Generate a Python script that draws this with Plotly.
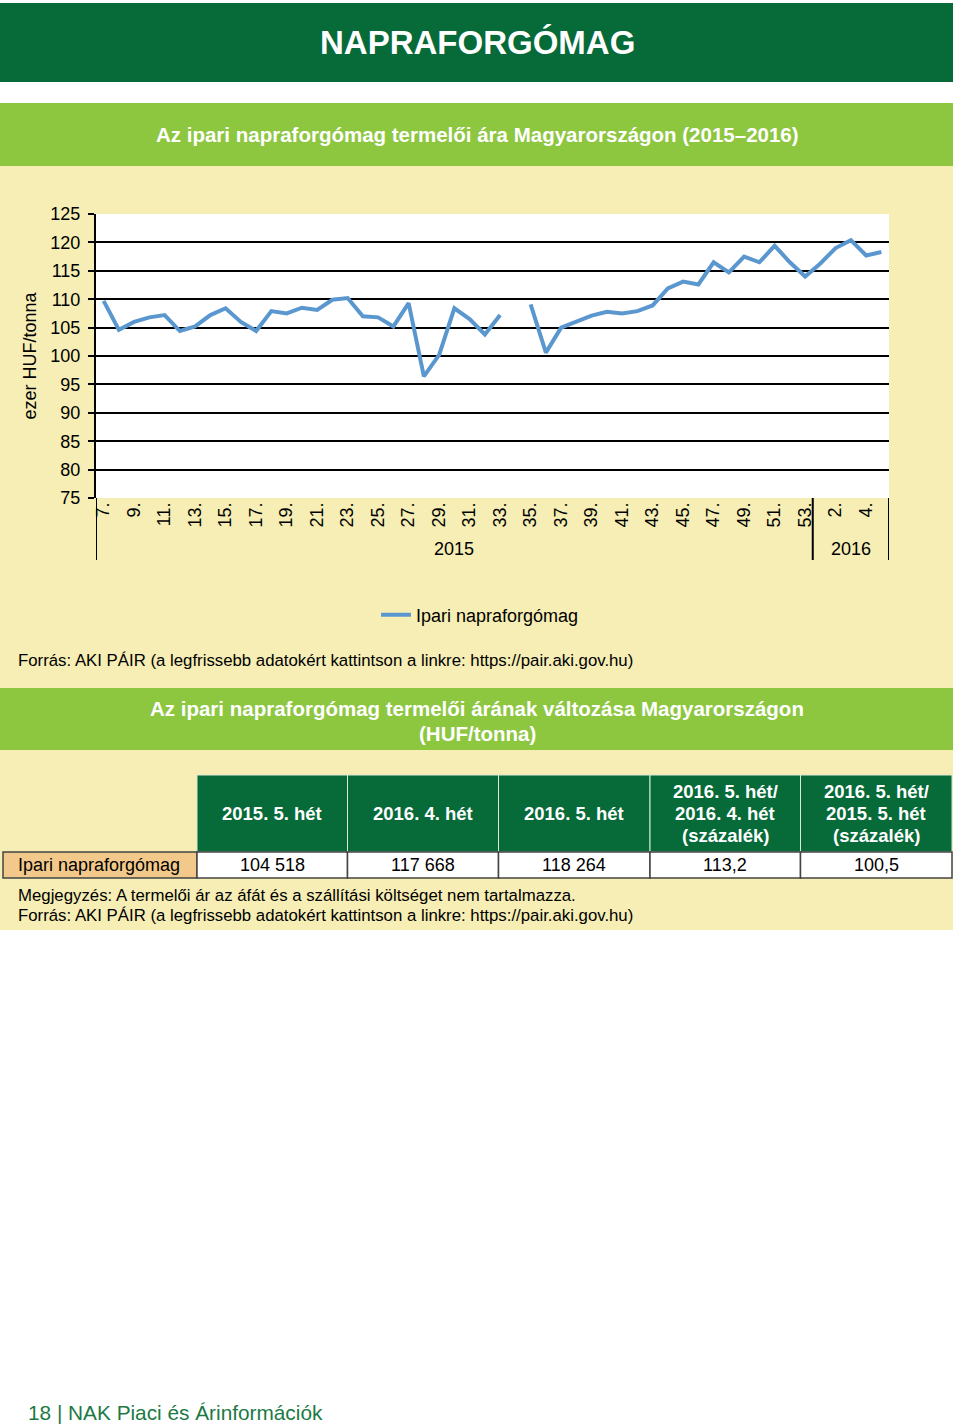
import plotly.graph_objects as go

W, H = 960, 1426
FONT = "Liberation Sans, Arial, sans-serif"
DARK_GREEN = "#066a39"
LIGHT_GREEN = "#8dc63f"
YELLOW = "#f6eeb4"
LINE_BLUE = "#5b97cf"

# weekly prices, ezer HUF/tonna (week 34 of 2015 missing)
weeks_2015 = [7, 8, 9, 10, 11, 12, 13, 14, 15, 16, 17, 18, 19, 20, 21, 22, 23, 24, 25, 26,
              27, 28, 29, 30, 31, 32, 33, 34, 35, 36, 37, 38, 39, 40, 41, 42, 43, 44, 45, 46,
              47, 48, 49, 50, 51, 52, 53]
prices_2015 = [109.7, 104.6, 106.0, 106.8, 107.2, 104.4, 105.2, 107.2, 108.4, 106.0,
               104.4, 107.9, 107.5, 108.5, 108.1, 109.9, 110.2, 107.0, 106.8, 105.2,
               109.3, 96.4, 100.2, 108.4, 106.5, 103.8, 107.2, None, 109.1, 100.6,
               105.0, 106.0, 107.1, 107.8, 107.5, 107.9, 108.9, 111.9, 113.1, 112.6,
               116.5, 114.7, 117.5, 116.5, 119.4, 116.5, 114.0]
weeks_2016 = [1, 2, 3, 4, 5]
prices_2016 = [116.3, 119.0, 120.4, 117.7, 118.3]
y_ticks = [75, 80, 85, 90, 95, 100, 105, 110, 115, 120, 125]

# table
col_headers = [["2015. 5. hét"], ["2016. 4. hét"], ["2016. 5. hét"],
               ["2016. 5. hét/", "2016. 4. hét", "(százalék)"],
               ["2016. 5. hét/", "2015. 5. hét", "(százalék)"]]
row_label = "Ipari napraforgómag"
row_values = ["104 518", "117 668", "118 264", "113,2", "100,5"]

categories = [f"2015. {w}." for w in weeks_2015] + [f"2016. {w}." for w in weeks_2016]
week_labels = [f"{w}." for w in weeks_2015 + weeks_2016]
prices = prices_2015 + prices_2016

SOURCE = "Forrás: AKI PÁIR (a legfrissebb adatokért kattintson a linkre: https://pair.aki.gov.hu)"


def px(x):
    return x / W


def py(y):
    return 1 - y / H


def rect(x0, y0, x1, y1, fill, line_color=None, line_width=0, layer="below"):
    return dict(type="rect", xref="paper", yref="paper", x0=px(x0), x1=px(x1),
                y0=py(y1), y1=py(y0), fillcolor=fill, layer=layer,
                line=dict(color=line_color or fill, width=line_width))


def label(x, y, text, size=16, color="#000", xanchor="center", bold=False):
    if bold:
        text = f"<b>{text}</b>"
    return dict(xref="paper", yref="paper", x=px(x), y=py(y), text=text, showarrow=False,
                xanchor=xanchor, yanchor="middle", align="center", borderpad=0,
                font=dict(family=FONT, size=size, color=color))


fig = go.Figure()
fig.add_trace(go.Scatter(x=categories, y=prices, mode="lines", name="Ipari napraforgómag",
                         line=dict(color=LINE_BLUE, width=4), connectgaps=False))

shapes = [
    rect(0, 3, 953, 82, DARK_GREEN),
    rect(0, 103, 953, 166, LIGHT_GREEN),
    rect(0, 166, 953, 688, YELLOW),
    rect(0, 688, 953, 750, LIGHT_GREEN),
    rect(0, 750, 953, 930, YELLOW),
    rect(96, 214, 889, 498, "white"),
]

# year dividers below the axis
n15 = len(weeks_2015)
for xv in [-0.5, n15 - 0.5, len(categories) - 0.5]:
    shapes.append(dict(type="line", xref="x", yref="paper", x0=xv, x1=xv,
                       y0=py(560), y1=py(498), line=dict(color="#000", width=2)))

# table cells
col_x = [3, 197, 347.5, 498.5, 650, 800.5, 952]
for i in range(len(col_headers)):
    shapes.append(rect(col_x[i + 1], 775, col_x[i + 2], 852, DARK_GREEN, "#dfe8d0", 1, "above"))
shapes.append(rect(col_x[0], 852, col_x[1], 878, "#f3c98b", "#444", 1.5, "above"))
for i in range(len(row_values)):
    shapes.append(rect(col_x[i + 1], 852, col_x[i + 2], 878, "white", "#444", 1.5, "above"))

annotations = [
    label(477, 42, "NAPRAFORGÓMAG", 33, "white", bold=True),
    label(477, 135, "Az ipari napraforgómag termelői ára Magyarországon (2015–2016)", 20.5,
          "white", bold=True),
    label(17, 660, SOURCE, 16.8, xanchor="left"),
    label(477, 708, "Az ipari napraforgómag termelői árának változása Magyarországon", 20.5,
          "white", bold=True),
    label(477, 733, "(HUF/tonna)", 20.5, "white", bold=True),
    label(17, 865, row_label, 18, xanchor="left"),
    label(17, 895, "Megjegyzés: A termelői ár az áfát és a szállítási költséget nem "
          "tartalmazza.", 16.8, xanchor="left"),
    label(17, 915, SOURCE, 16.8, xanchor="left"),
    label(27, 1412, "18 | NAK Piaci és Árinformációk", 20.8, "#1b7a43", xanchor="left"),
]
for i, (head, val) in enumerate(zip(col_headers, row_values)):
    cx = (col_x[i + 1] + col_x[i + 2]) / 2
    first = 813 - 22 * (len(head) - 1) / 2
    for j, line in enumerate(head):
        annotations.append(label(cx, first + 22 * j, line, 18.5, "white", bold=True))
    annotations.append(label(cx, 865, val, 18))

# year labels, centred on each group
annotations.append(dict(xref="x", yref="paper", x=(n15 - 1) / 2, y=py(549), text="2015",
                        showarrow=False, font=dict(family=FONT, size=18, color="#000")))
annotations.append(dict(xref="x", yref="paper", x=n15 + (len(weeks_2016) - 1) / 2, y=py(549),
                        text="2016", showarrow=False,
                        font=dict(family=FONT, size=18, color="#000")))

fig.update_layout(
    width=W,
    height=H,
    margin=dict(l=0, r=0, t=0, b=0, pad=0, autoexpand=False),
    paper_bgcolor="white",
    plot_bgcolor="white",
    font=dict(family=FONT, size=18, color="#000"),
    showlegend=True,
    legend=dict(orientation="h", x=0.5, xanchor="center", y=py(615), yanchor="middle",
                bgcolor="rgba(0,0,0,0)", font=dict(size=18)),
    shapes=shapes,
    annotations=annotations,
)
fig.update_xaxes(
    domain=[px(96), px(889)],
    type="category",
    categoryorder="array",
    categoryarray=categories,
    range=[-0.5, len(categories) - 0.5],
    tickmode="array",
    tickvals=categories[::2],
    ticktext=week_labels[::2],
    tickangle=-90,
    tickfont=dict(size=18),
    showgrid=False,
    ticks="",
    showline=False,
    zeroline=False,
    automargin=False,
)
fig.update_yaxes(
    domain=[py(498), py(214)],
    range=[75, 125],
    tickvals=y_ticks,
    showgrid=True,
    gridcolor="#000",
    gridwidth=2,
    showline=True,
    linecolor="#000",
    linewidth=2,
    ticks="outside",
    ticklen=6,
    tickcolor="#000",
    tickwidth=2,
    ticklabelstandoff=4,
    tickfont=dict(size=18),
    title=dict(text="ezer HUF/tonna", font=dict(size=18), standoff=9),
    zeroline=False,
    automargin=False,
)

# drop the default page margin so the figure sits at the window origin
fig.write_html("out.html", config={"displayModeBar": False},
               post_script="document.body.style.margin='0';")
